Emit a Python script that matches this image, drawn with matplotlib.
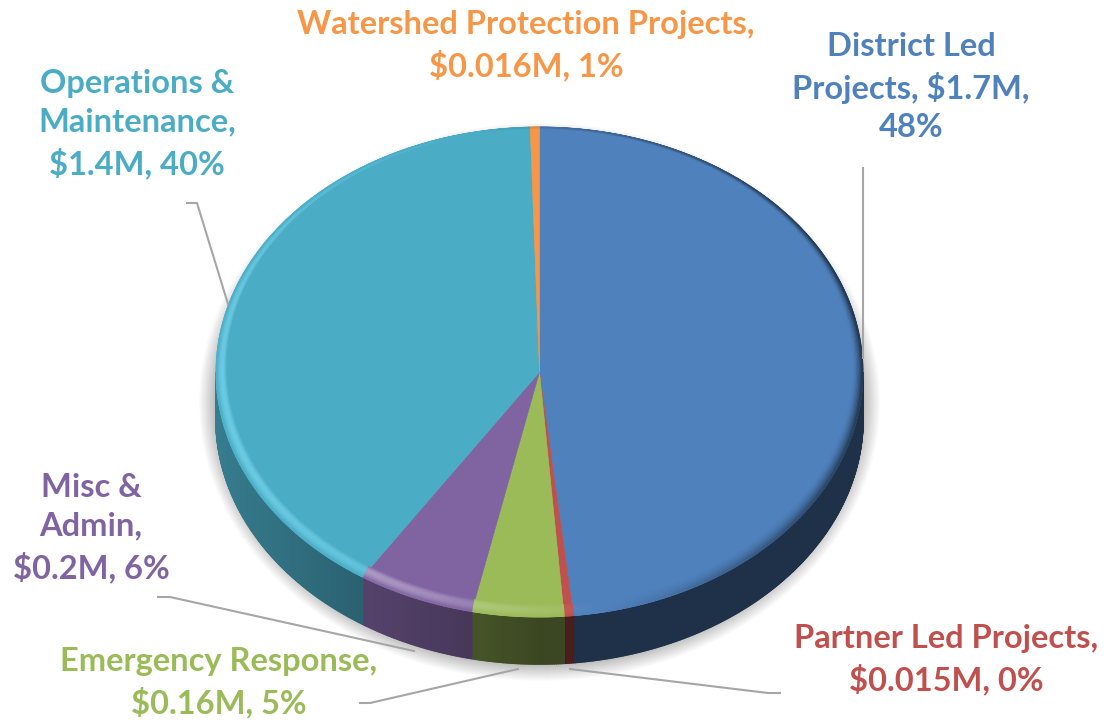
import numpy as np
import matplotlib
matplotlib.use('Agg')
import matplotlib.pyplot as plt
from matplotlib.collections import PolyCollection
from matplotlib.colors import to_rgb
from matplotlib.patches import Ellipse, Polygon

# $M, clockwise from 12 o'clock
categories = ['District Led Projects', 'Partner Led Projects', 'Emergency Response',
              'Misc & Admin', 'Operations & Maintenance', 'Watershed Protection Projects']
values = [1.69, 0.016, 0.16, 0.205, 1.41, 0.016]
colors = ['#4f81bd', '#c0504d', '#9bbb59', '#8064a2', '#4bacc6', '#f79646']
labels = ['District Led\nProjects, $1.7M,\n48%',
          'Partner Led Projects,\n$0.015M, 0%',
          'Emergency Response,\n$0.16M, 5%',
          'Misc &\nAdmin,\n$0.2M, 6%',
          'Operations &\nMaintenance,\n$1.4M, 40%',
          'Watershed Protection Projects,\n$0.016M, 1%']
label_pos = [(911, 87), (946, 660), (219, 683), (91, 528), (137, 124), (526, 46)]
leaders = [[(863, 168), (863, 358)],
           [(570, 669), (768, 693), (780, 693)],
           [(518, 669), (370, 703), (360, 703)],
           [(414, 651), (170, 597), (158, 597)],
           [(228, 304), (197, 203), (187, 203)],
           []]

cx, cy, rx, ry = 539.5, 372, 323.5, 245
depth = 47
fontsize = 23.5

plt.rcParams['font.family'] = ['Lato', 'DejaVu Sans']
fig = plt.figure(figsize=(11.14, 7.22), dpi=100)
ax = fig.add_axes([0, 0, 1, 1])
ax.set_xlim(0, 1114)
ax.set_ylim(722, 0)
ax.axis('off')


def rim(theta, ex=cx, ey=cy, ax_x=rx, ax_y=ry):
    return ex + ax_x * np.sin(theta), ey - ax_y * np.cos(theta)


def blend(c, other, k):
    return tuple((1 - k) * a + k * b for a, b in zip(c, other))


# soft shadow under the pie
for g in range(0, 18):
    ax.add_patch(Ellipse((cx, cy + 30), 2 * (rx + g), 2 * (ry + 17 + g),
                         fc='#000000', ec='none', alpha=0.016, zorder=1))

fracs = np.array(values) / sum(values)
edges = np.concatenate([[0], np.cumsum(fracs)]) * 2 * np.pi

side_q, side_c, top_q, top_c = [], [], [], []
for i, col in enumerate(colors):
    base = to_rgb(col)
    a0, a1 = edges[i], edges[i + 1]
    n = max(int(np.degrees(a1 - a0) * 3), 2)
    ts = np.linspace(a0, a1, n + 1)

    # side wall, only the front half can be seen
    for t0, t1 in zip(ts[:-1], ts[1:]):
        if np.cos((t0 + t1) / 2) > 0:
            continue
        x0, y0 = rim(t0)
        x1, y1 = rim(t1)
        side_q.append([(x0, y0), (x1, y1), (x1, y1 + depth), (x0, y0 + depth)])
        mid = (t0 + t1) / 2
        if mid > np.pi:
            k = 0.62 - 0.34 * np.sin(mid - np.pi)
        else:
            k = 0.62
        if i == 3:
            k -= 0.1
        side_c.append(blend(base, (0, 0, 0), k))

    # flat top face
    wx, wy = rim(ts)
    ax.add_patch(Polygon(np.column_stack([np.r_[cx, wx], np.r_[cy, wy]]),
                         fc=col, ec=col, lw=0.4, zorder=4))

    # bevel along the rim
    rings = np.linspace(0, 1, 9)
    for r0, r1 in zip(rings[:-1], rings[1:]):
        e0 = (cy - 5 * (1 - r0), rx - 10 * (1 - r0), ry - 7 * (1 - r0))
        e1 = (cy - 5 * (1 - r1), rx - 10 * (1 - r1), ry - 7 * (1 - r1))
        for t0, t1 in zip(ts[:-1], ts[1:]):
            xa, ya = rim(t0, cx, e0[0], e0[1], e0[2])
            xb, yb = rim(t1, cx, e0[0], e0[1], e0[2])
            xc, yc = rim(t1, cx, e1[0], e1[1], e1[2])
            xd, yd = rim(t0, cx, e1[0], e1[1], e1[2])
            top_q.append([(xa, ya), (xb, yb), (xc, yc), (xd, yd)])
            mid = (t0 + t1) / 2
            rm = (r0 + r1) / 2
            s = -np.sin(mid) + 0.2 * (-np.cos(mid))
            if s > 0:
                top_c.append(blend(base, (0.55, 0.92, 1.0) if i == 4 else (1, 1, 1),
                                   0.5 * s * np.sin(np.pi * rm ** 0.8)))
            else:
                top_c.append(blend(base, (0, 0, 0), 0.6 * (-s) * rm ** 1.6))

ax.add_collection(PolyCollection(side_q, facecolors=side_c, edgecolors=side_c, linewidths=1.2, zorder=3))
ax.add_collection(PolyCollection(top_q, facecolors=top_c, edgecolors=top_c, linewidths=0.6, zorder=5))

for pts, col, txt, pos in zip(leaders, colors, labels, label_pos):
    if pts:
        ax.plot(*zip(*pts), color='#a6a6a6', lw=1.5, zorder=2 if pts[0][1] == 358 else 6)
    ax.text(pos[0], pos[1], txt, color=col, fontsize=fontsize, fontweight='bold',
            ha='center', va='center', linespacing=1.4, zorder=7)

fig.savefig('out.png', dpi=100)
